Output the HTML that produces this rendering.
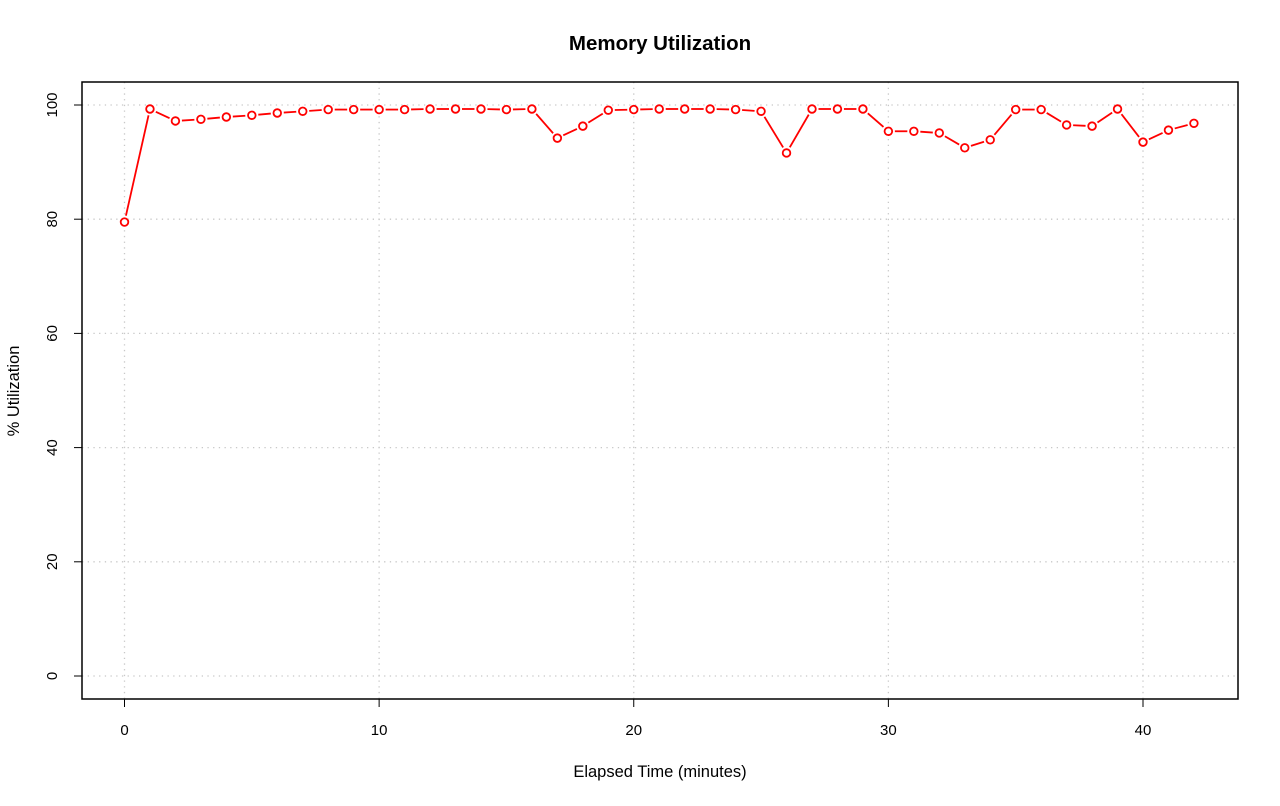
<!DOCTYPE html>
<html><head><meta charset="utf-8"><style>
html,body{margin:0;padding:0;background:#fff;}
svg text{font-family:"Liberation Sans",sans-serif;fill:#000;}
</style></head><body>
<svg id="chart" width="1280" height="801">
<text x="660" y="50" text-anchor="middle" font-size="20.5" font-weight="bold">Memory Utilization</text>
<g id="grid"></g>
<g id="axes"></g>
<g id="series"></g>
<rect x="82" y="82" width="1156" height="617" fill="none" stroke="#000" stroke-width="1.5"/>
<text x="660" y="777" text-anchor="middle" font-size="16.5">Elapsed Time (minutes)</text>
<text transform="translate(19,391) rotate(-90)" text-anchor="middle" font-size="16.5">% Utilization</text>
</svg>
<script>
const minutes = [0,1,2,3,4,5,6,7,8,9,10,11,12,13,14,15,16,17,18,19,20,21,22,23,24,25,26,27,28,29,30,31,32,33,34,35,36,37,38,39,40,41,42];
const utilization = [79.5,99.3,97.2,97.5,97.9,98.2,98.6,98.9,99.2,99.2,99.2,99.2,99.3,99.3,99.3,99.2,99.3,94.2,96.3,99.1,99.2,99.3,99.3,99.3,99.2,98.9,91.6,99.3,99.3,99.3,95.4,95.4,95.1,92.5,93.9,99.2,99.2,96.5,96.3,99.3,93.5,95.6,96.8];
const xTicks = [0,10,20,30,40];
const yTicks = [0,20,40,60,80,100];

const NS = "http://www.w3.org/2000/svg";
function xs(v){ return 124.5 + v * (1143 - 124.5) / 40; }
function ys(v){ return 676 - v * (676 - 105) / 100; }
function mk(tag, attrs, parent){ const e = document.createElementNS(NS, tag); for (const k in attrs) e.setAttribute(k, attrs[k]); parent.appendChild(e); return e; }

const grid = document.getElementById('grid');
const axes = document.getElementById('axes');
const series = document.getElementById('series');

xTicks.forEach(t => {
  const g = mk('line', {x1: xs(t), x2: xs(t), y1: 82, y2: 699, stroke: '#c8c8c8', 'stroke-width': 1.3, 'stroke-dasharray': '1.3,4.4'}, grid);
  
  
  const tk = mk('line', {x1: xs(t), x2: xs(t), y1: 699, y2: 707, stroke: '#000'}, axes);
  
  
  const tx = mk('text', {x: xs(t), y: 735, 'text-anchor': 'middle', 'font-size': 15}, axes);
  tx.textContent = t;
  
  
});
yTicks.forEach(t => {
  const g = mk('line', {x1: 82, x2: 1238, y1: ys(t), y2: ys(t), stroke: '#c8c8c8', 'stroke-width': 1.3, 'stroke-dasharray': '1.3,4.4'}, grid);
  
  
  const tk = mk('line', {x1: 74, x2: 82, y1: ys(t), y2: ys(t), stroke: '#000'}, axes);
  
  
  const tx = mk('text', {transform: 'translate(57,' + ys(t) + ') rotate(-90)', 'text-anchor': 'middle', 'font-size': 15}, axes);
  tx.textContent = t;
  
  
});

for (let i = 0; i < minutes.length - 1; i++) {
  const x1 = xs(minutes[i]), y1 = ys(utilization[i]), x2 = xs(minutes[i+1]), y2 = ys(utilization[i+1]);
  const dx = x2 - x1, dy = y2 - y1, L = Math.hypot(dx, dy), r = 6.5;
  if (L <= 2 * r) continue;
  const ux = dx / L, uy = dy / L;
  const s = mk('line', {x1: x1 + ux*r, y1: y1 + uy*r, x2: x2 - ux*r, y2: y2 - uy*r, stroke: '#ff0000', 'stroke-width': 1.8}, series);
  
  
}
minutes.forEach((m, i) => {
  const c = mk('circle', {cx: xs(m), cy: ys(utilization[i]), r: 3.8, fill: '#fff', stroke: '#ff0000', 'stroke-width': 1.8}, series);
  
  
});
</script>
</body></html>
